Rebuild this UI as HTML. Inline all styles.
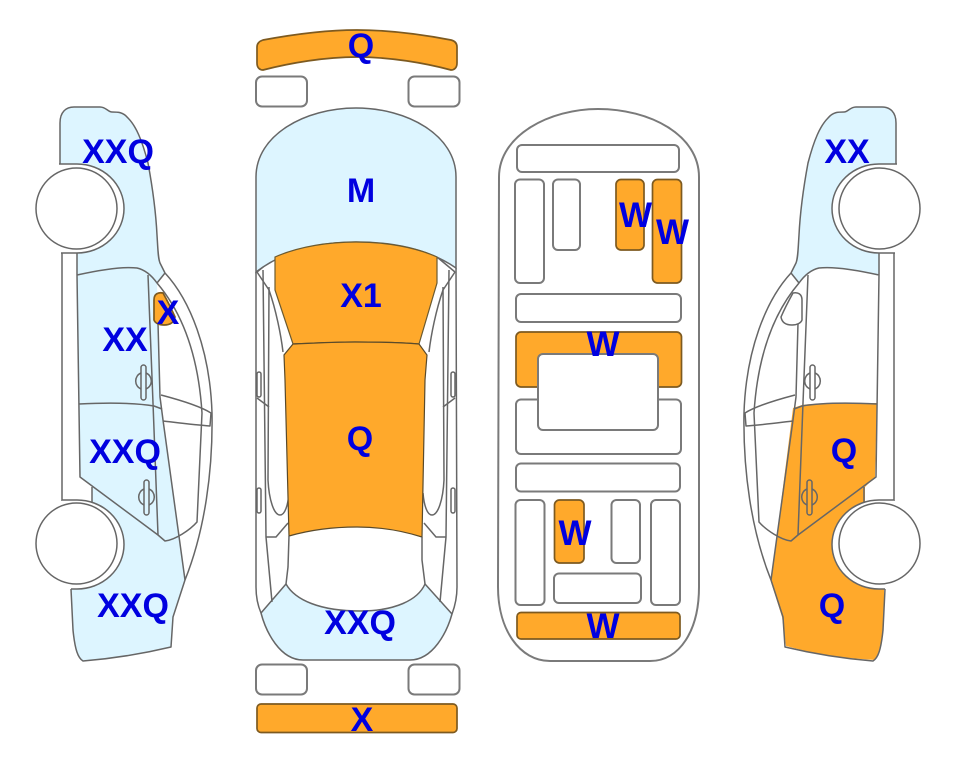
<!DOCTYPE html>
<html>
<head>
<meta charset="utf-8">
<style>
html,body{margin:0;padding:0;background:#fff;width:963px;height:768px;overflow:hidden}
svg{display:block}
text{font-family:"Liberation Sans",sans-serif;font-weight:bold;font-size:34px;fill:#0000e0;text-anchor:middle}
text.v{font-size:35px}
.l{fill:none;stroke:#666;stroke-width:1.5;stroke-linejoin:round}
.b{fill:#fff;stroke:#7a7a7a;stroke-width:2}
.o{fill:#ffa92b;stroke:#7d5a20;stroke-width:1.7}
.c{fill:#ddf5ff}
.f{fill:#ffa92b}
.w{fill:#fff;stroke:#666;stroke-width:1.5}
.n{fill:#fff;stroke:none}
</style>
</head>
<body>
<svg width="963" height="768" viewBox="0 0 963 768" xmlns="http://www.w3.org/2000/svg">
<defs>
<g id="side">
<path class="l" d="M60,164 L60,123 C60,112 66,107 74,107 L100,107 C106,107 108,112 112,112 C118,112 123,112 128,118 C136,126 142,140 148,163 C153,190 156,215 157,235 C158,250 158,258 160,263 L165,273"/>
<path class="l" d="M165,273 C190,300 210,350 212,413 C213,470 205,530 185,580 L173,617 L171,647 C150,652 120,658 83,661 C78,658 75,650 73,630 L71,589"/>
<path class="l" d="M165,273 L157,283"/>
<path class="l" d="M77,275 C95,271 120,266 137,268 C146,270 152,276 157,283 C180,310 198,350 202,413 L197,522 C190,530 175,540 165,541 L158,535 L80,477 L77,275"/>
<path class="l" d="M148,275 L153,403 L158,535"/>
<path class="l" d="M158,323 L160,397 L163,420 L185,580"/>
<path class="l" d="M62,253 V501 M77,253 V275 M92,487 V502"/>
<path class="l" d="M79,404 C100,403 130,402 154,406 L162,409"/>
<path class="l" d="M161,395 C180,400 200,406 211,413 L210,426 C195,425 180,423 163,421"/>
</g>
<g id="wheels">
<path class="n" d="M60,164 H77 A47,44.500 0 0 1 77,253 H60 Z"/>
<path class="l" d="M59,164 H77 A47,44.500 0 0 1 77,253 H61"/>
<circle class="w" cx="76.500" cy="208.500" r="40.500"/>
<path class="n" d="M62,500 H77 A47,44.500 0 0 1 77,589 H71 L62,560 Z"/>
<path class="l" d="M62,500 H77 A47,44.500 0 0 1 77,589 H71"/>
<circle class="w" cx="76.500" cy="543.500" r="40.500"/>
</g>
<g id="handles">
<path class="l" d="M141,373 A8,8.500 0 0 0 141,389 M146,373 A8,8.500 0 0 1 146,389"/>
<rect x="141" y="365" width="5" height="35" rx="2.500" class="l"/>
<path class="l" d="M144,489 A8,8.500 0 0 0 144,505 M149,489 A8,8.500 0 0 1 149,505"/>
<rect x="144" y="480" width="5" height="35" rx="2.500" class="l"/>
</g>
<g id="tophalf">
<path class="l" d="M257,272 L269,290 C276,310 281,335 283,352"/>
<path class="l" d="M275,257 L257,272"/>
<path class="l" d="M263,270 L266,537 L272,602"/>
<path class="l" d="M269,287 L268,480 C269,500 274,515 280,515 C285,515 288,505 289,493"/>
<path class="l" d="M257,398 L269,407"/>
<path class="l" d="M266,537 L276,537 L288,523"/>
<rect class="l" x="257" y="372" width="4" height="25" rx="2"/>
<rect class="l" x="257" y="488" width="4" height="25" rx="2"/>
</g>
</defs>

<!-- left car -->
<path class="c" d="M60,164 L60,123 C60,112 66,107 74,107 L100,107 C106,107 108,112 112,112 C118,112 123,112 128,118 C136,126 142,140 148,163 C153,190 156,215 157,235 C158,250 158,258 160,263 L165,273 L157,283 C152,276 146,270 137,268 C120,266 95,271 77,275 L77,253 L60,253 Z"/>
<path class="c" d="M77,275 C95,271 120,266 137,268 C146,270 152,276 157,283 L158,323 L160,397 L163,420 L185,580 L173,617 L171,647 C150,652 120,658 83,661 C78,658 75,650 73,630 L71,589 L71,540 L92,502 L92,487 L80,477 Z"/>
<use href="#side"/>
<path class="o" d="M154,300 C154,294 158,292 163,293 C168,302 172,310 175,317 C174,323 170,325 164,325 C159,325 155,323 154,320 Z"/>
<use href="#handles"/>
<use href="#wheels"/>

<!-- right car -->
<path class="c" transform="translate(956,0) scale(-1,1)" d="M60,164 L60,123 C60,112 66,107 74,107 L100,107 C106,107 108,112 112,112 C118,112 123,112 128,118 C136,126 142,140 148,163 C153,190 156,215 157,235 C158,250 158,258 160,263 L165,273 L157,283 C152,276 146,270 137,268 C120,266 95,271 77,275 L77,253 L60,253 Z"/>
<path class="f" transform="translate(956,0) scale(-1,1)" d="M163,408 L154,405 C130,402 100,403 79,403 L81,477 L91,487 L91,502 L72,540 L72,620 C73,640 78,655 81,660 C110,658 130,656 143,653 L170,646 L174,617 L185,582 Z"/>
<use href="#side" transform="translate(956,0) scale(-1,1)"/>
<path class="w" transform="translate(956,0) scale(-1,1)" d="M154,300 C154,294 158,292 163,293 C168,302 172,310 175,317 C174,323 170,325 164,325 C159,325 155,323 154,320 Z"/>
<use href="#handles" transform="translate(956,0) scale(-1,1)"/>
<use href="#wheels" transform="translate(956,0) scale(-1,1)"/>

<!-- top view -->
<path class="o" d="M257,47 C257,43 260,41 263,40 C290,35 325,30 357,30 C390,30 425,35 451,40 C455,41 457,43 457,47 L457,63 C457,68 454,70 451,70 C425,63 390,57 357,57 C325,57 290,63 263,70 C260,70 257,68 257,63 Z"/>
<rect class="b" x="256" y="76.500" width="51" height="30" rx="6"/>
<rect class="b" x="408.500" y="76.500" width="51" height="30" rx="6"/>
<rect class="b" x="256" y="664.500" width="51" height="30" rx="6"/>
<rect class="b" x="408.500" y="664.500" width="51" height="30" rx="6"/>
<rect class="o" x="257" y="704" width="200" height="28.500" rx="4"/>

<path class="c" d="M261,613 L286,584 C295,600 320,611 360,611 C395,611 418,600 425,584 L452,614 C447,632 433,660 410,660 L303,660 C280,660 266,632 261,613 Z"/>
<path class="l" d="M256,272 L256,587 C256,597 258,606 261,613 C266,632 280,660 303,660 L410,660 C433,660 447,632 452,614 C455,606 457,597 457,587 L456,268"/>
<use href="#tophalf"/>
<use href="#tophalf" transform="translate(712,0) scale(-1,1)"/>

<path class="c" stroke="#666" stroke-width="1.5" d="M256,272 L256,177 C256,135 305,108 356,108 C407,108 456,135 456,177 L456,268 C430,250 395,242 356,242 C320,242 285,250 256,272 Z"/>
<path class="f" stroke="#6b5a30" stroke-width="1.2" d="M275,257 C300,246 330,242 356,242 C385,242 415,247 437,257 L437,283 L419,344 C395,342 375,342 355,342 C335,342 315,343 293,344 L275,290 Z"/>
<path class="f" stroke="#5a4a2a" stroke-width="1.2" d="M293,344 C315,343 335,342 355,342 C375,342 395,342 419,344 L427,355 L425,380 L422,537 C400,530 380,527 357,527 C335,527 310,530 289,536 L285,380 L284,355 Z"/>
<path class="l" d="M261,613 L286,584 C295,600 320,611 360,611 C395,611 418,600 425,584 L452,614"/>
<path class="l" d="M289,536 L288,567 L286,584 M422,537 L422,560 L425,584"/>

<!-- bottom view -->
<path d="M499,177 C499,135 550,109 598,109 C650,109 699,135 699,177 L699,587 C699,630 680,661 650,661 L550,661 C520,661 498,630 498,587 Z" fill="none" stroke="#7a7a7a" stroke-width="2"/>
<rect class="b" x="517" y="145" width="162" height="27" rx="5"/>
<rect class="b" x="515" y="179.500" width="29" height="103.500" rx="5"/>
<rect class="b" x="553" y="179.500" width="27" height="70.500" rx="5"/>
<rect class="o" x="616" y="179.500" width="28" height="70.500" rx="5"/>
<rect class="o" x="652.500" y="179.500" width="29" height="103.500" rx="5"/>
<rect class="b" x="516" y="294" width="165" height="28" rx="5"/>
<rect class="o" x="516" y="332" width="165.500" height="55" rx="5"/>
<rect class="b" x="516" y="399.500" width="165" height="54.500" rx="5"/>
<rect class="b" x="538" y="354" width="120" height="76" rx="5"/>
<rect class="b" x="516" y="463.500" width="164" height="28" rx="5"/>
<rect class="b" x="515.500" y="500" width="29" height="105" rx="5"/>
<rect class="o" x="554.500" y="500" width="29.500" height="63" rx="5"/>
<rect class="b" x="611.500" y="500" width="28.500" height="63" rx="5"/>
<rect class="b" x="651" y="500" width="29" height="105" rx="5"/>
<rect class="b" x="554" y="573.500" width="87" height="29.500" rx="5"/>
<rect class="o" x="517" y="612.500" width="163" height="26.500" rx="4"/>

<!-- labels -->
<text x="118" y="163">XXQ</text>
<text x="125" y="351">XX</text>
<text x="168" y="324">X</text>
<text x="125" y="463">XXQ</text>
<text x="133" y="617">XXQ</text>
<text x="361" y="57">Q</text>
<text x="361" y="202">M</text>
<text x="361" y="307">X1</text>
<text x="360" y="450">Q</text>
<text x="360" y="634">XXQ</text>
<text x="362" y="731">X</text>
<text class="v" x="635.500" y="227">W</text>
<text class="v" x="672.500" y="244">W</text>
<text class="v" x="603" y="356">W</text>
<text class="v" x="575" y="545">W</text>
<text class="v" x="603" y="638">W</text>
<text x="847" y="163">XX</text>
<text x="844" y="462">Q</text>
<text x="832" y="617">Q</text>
</svg>
</body>
</html>
